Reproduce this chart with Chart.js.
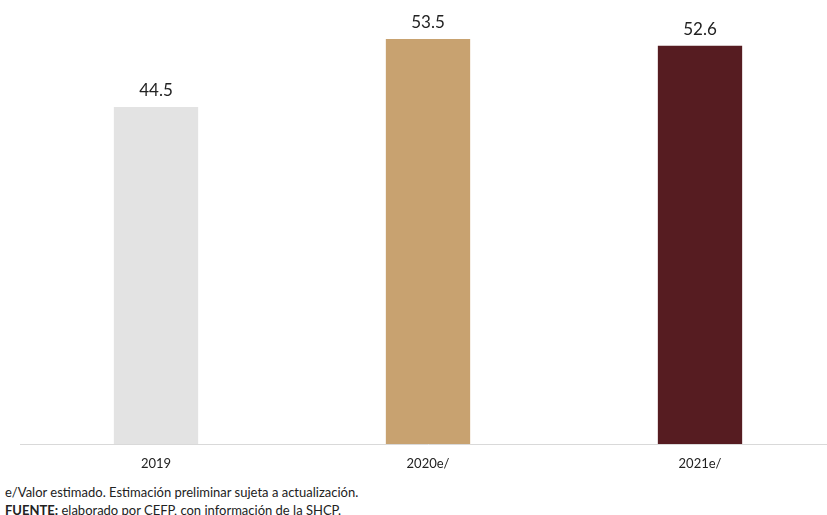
<!DOCTYPE html>
<html>
<head>
<meta charset="utf-8">
<script src="https://cdn.jsdelivr.net/npm/chart.js@4.4.1/dist/chart.umd.min.js"></script>
<style>
  html, body { margin: 0; padding: 0; background: #fff; overflow: hidden; }
  #wrap { position: absolute; left: 0; top: 0; width: 836px; height: 475px; }
  .note { position: absolute; left: 5px; font-family: Lato, "Open Sans", sans-serif; font-size: 13px; color: #222; white-space: nowrap; }
</style>
</head>
<body>
<div id="wrap"><canvas id="barChart" width="836" height="475"></canvas></div>
<div class="note" style="top:484px">e/Valor estimado. Estimación preliminar sujeta a actualización.</div>
<div class="note" style="top:502px"><b>FUENTE:</b> elaborado por CEFP, con información de la SHCP.</div>
<script>
//data
const years = ["2019", "2020e/", "2021e/"];
const values = [44.5, 53.5, 52.6];
const barColors = ["#e3e3e3", "#c8a270", "#561c21"];

const textColor = "#222";
const fontFamily = "Lato, 'Open Sans', sans-serif";

// value labels above each bar
const valueLabels = {
  id: "valueLabels",
  afterDatasetsDraw(chart) {
    const { ctx } = chart;
    const meta = chart.getDatasetMeta(0);
    ctx.save();
    ctx.font = "17px " + fontFamily;
    ctx.fillStyle = textColor;
    ctx.textAlign = "center";
    ctx.textBaseline = "bottom";
    meta.data.forEach((bar, i) => {
      ctx.fillText(values[i].toFixed(1), bar.x, bar.y - 8);
    });
    ctx.restore();
  },
};

const ctx = document.getElementById("barChart").getContext("2d");

new Chart(ctx, {
  type: "bar",
  data: {
    labels: years,
    datasets: [
      {
        data: values,
        backgroundColor: barColors,
        borderWidth: 0,
        barPercentage: 0.31,
        categoryPercentage: 1,
      },
    ],
  },
  options: {
    responsive: false,
    animation: false,
    layout: { padding: { top: 20, left: 20, right: 0, bottom: 0 } },
    plugins: {
      legend: { display: false },
      tooltip: { enabled: false },
    },
    scales: {
      x: {
        grid: { display: false, drawTicks: false },
        border: { color: "#d9d9d9", width: 1 },
        ticks: {
          color: textColor,
          padding: 12,
          font: { family: fontFamily, size: 13 },
        },
        afterFit(scale) {
          scale.height = 31;
        },
      },
      y: {
        display: false,
        min: 0,
        max: 56,
      },
    },
  },
  plugins: [valueLabels],
});
</script>
</body>
</html>
